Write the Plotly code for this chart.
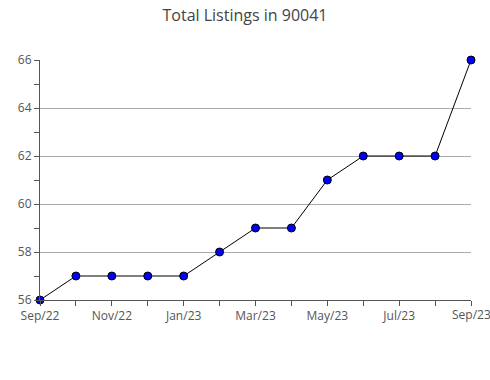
import plotly.graph_objects as go

months = ["Sep/22", "Oct/22", "Nov/22", "Dec/22", "Jan/23", "Feb/23", "Mar/23",
          "Apr/23", "May/23", "Jun/23", "Jul/23", "Aug/23", "Sep/23"]
listings = [56, 57, 57, 57, 57, 58, 59, 59, 61, 62, 62, 62, 66]

idx = list(range(len(months)))
last = len(months) - 1
# last label is drawn as an annotation so it is not dropped at the page edge
ticktext = [m if (i % 2 == 0 and i != last) else "" for i, m in enumerate(months)]

fig = go.Figure()
fig.add_trace(go.Scatter(
    x=idx, y=listings, mode="lines+markers",
    line=dict(color="black", width=1),
    marker=dict(symbol="circle", size=8, color="#0000ff", line=dict(color="black", width=1)),
    cliponaxis=False, text=months, hovertemplate="%{text}: %{y}<extra></extra>"
))

axis_font = dict(family="Open Sans, Noto Sans, sans-serif", size=12, color="#555555")
fig.add_annotation(
    x=last, y=0, xref="x", yref="y domain", text=months[last], showarrow=False,
    xanchor="center", yanchor="top", yshift=-4, font=axis_font,
)
fig.update_layout(
    width=490, height=380,
    margin=dict(l=40, r=19, t=60, b=80),
    paper_bgcolor="white", plot_bgcolor="white",
    showlegend=False,
    title=dict(text="Total Listings in 90041", x=0.5, xanchor="center", y=0.96, yanchor="middle",
               font=dict(family="Open Sans, Noto Sans, sans-serif", size=16, color="#444444")),
    xaxis=dict(
        range=[0, last], tickvals=idx, ticktext=ticktext,
        ticks="outside", ticklen=5, tickcolor="#555555",
        showgrid=False, showline=True, linecolor="#555555", linewidth=1,
        tickfont=axis_font, zeroline=False, automargin=False,
    ),
    yaxis=dict(
        range=[56, 66], dtick=2, tick0=56,
        ticks="outside", ticklen=5, tickcolor="#555555",
        minor=dict(dtick=1, ticks="outside", ticklen=5, tickcolor="#555555", showgrid=False),
        showgrid=True, gridcolor="#aaaaaa", gridwidth=1,
        showline=True, linecolor="#555555", linewidth=1,
        tickfont=axis_font, zeroline=False, automargin=False,
    ),
)
fig.write_html("out.html")
